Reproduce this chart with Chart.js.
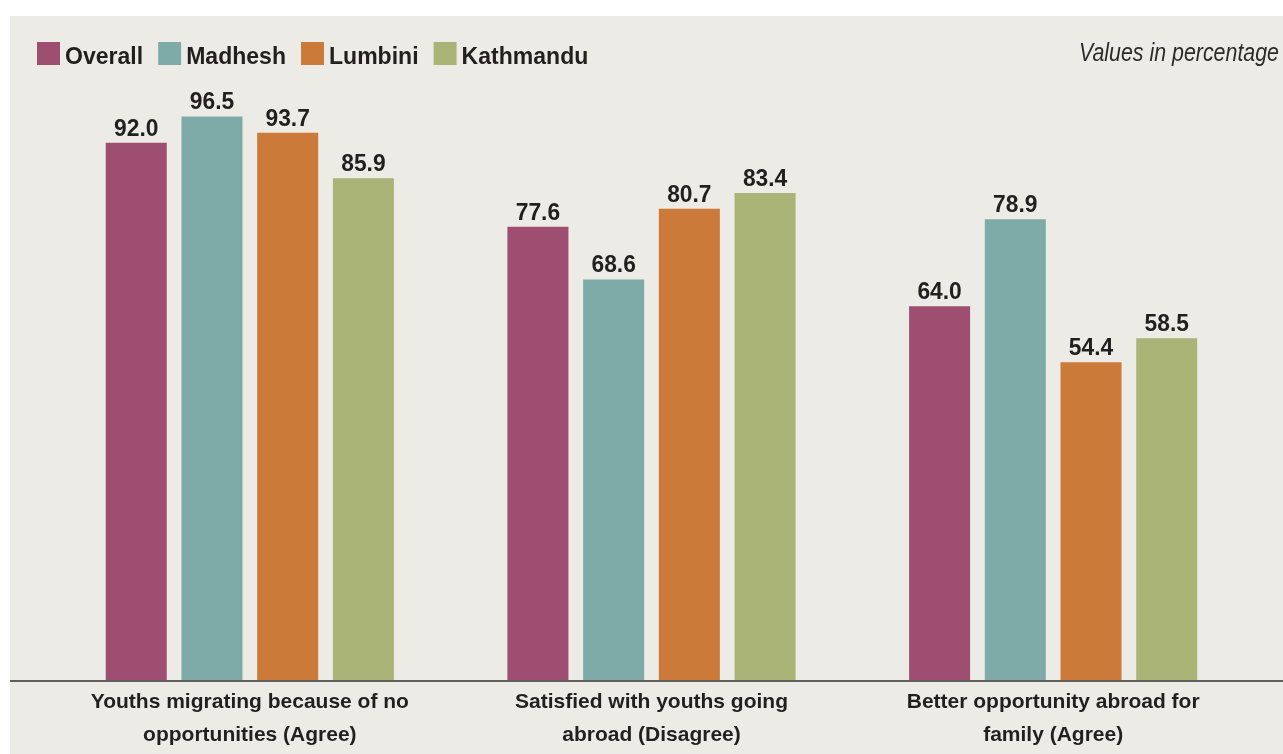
<!DOCTYPE html>
<html>
<head>
<meta charset="utf-8">
<script src="https://cdn.jsdelivr.net/npm/chart.js@4.4.1/dist/chart.umd.min.js"></script>
<style>
  html, body { margin: 0; padding: 0; background: #ffffff; }
  #wrap { width: 1283px; height: 754px; position: relative; }
</style>
</head>
<body>
<div id="wrap"><canvas id="c" width="1283" height="754"></canvas></div>
<script>
// ---- Data ----
const categories = [
  ["Youths migrating because of no", "opportunities (Agree)"],
  ["Satisfied with youths going", "abroad (Disagree)"],
  ["Better opportunity abroad for", "family (Agree)"]
];
const seriesNames = ["Overall", "Madhesh", "Lumbini", "Kathmandu"];
const overall   = [92.0, 77.6, 64.0];
const madhesh   = [96.5, 68.6, 78.9];
const lumbini   = [93.7, 80.7, 54.4];
const kathmandu = [85.9, 83.4, 58.5];
const seriesColors = ["#9e4e71", "#7eaba8", "#cb7a3a", "#aab477"];
const noteText = "Values in percentage";

const seriesValues = [overall, madhesh, lumbini, kathmandu];

const PANEL = "#ecebe6";
const TEXT = "#231f20";
const FONT = "'Liberation Sans', Arial, sans-serif";

const bgPlugin = {
  id: "bg",
  beforeDraw(chart) {
    const ctx = chart.ctx;
    ctx.save();
    ctx.fillStyle = "#ffffff";
    ctx.fillRect(0, 0, chart.width, chart.height);
    ctx.fillStyle = PANEL;
    ctx.fillRect(10, 16, chart.width - 10, chart.height - 16);
    ctx.restore();
  }
};

const baselinePlugin = {
  id: "baseline",
  afterDatasetsDraw(chart) {
    const ctx = chart.ctx;
    const y = chart.scales.y.getPixelForValue(0) + 1;
    ctx.save();
    ctx.strokeStyle = "#5e5e5e";
    ctx.lineWidth = 2;
    ctx.beginPath();
    ctx.moveTo(10, y);
    ctx.lineTo(chart.width, y);
    ctx.stroke();
    ctx.restore();
  }
};

function drawScaledText(ctx, text, x, y, sx, align) {
  ctx.save();
  ctx.translate(x, y);
  ctx.scale(sx, 1);
  ctx.textAlign = align;
  ctx.fillText(text, 0, 0);
  ctx.restore();
}

const valueLabelPlugin = {
  id: "valueLabels",
  afterDatasetsDraw(chart) {
    const ctx = chart.ctx;
    ctx.save();
    ctx.fillStyle = TEXT;
    ctx.font = "bold 24px " + FONT;
    ctx.textBaseline = "alphabetic";
    chart.data.datasets.forEach((ds, di) => {
      const meta = chart.getDatasetMeta(di);
      meta.data.forEach((bar, i) => {
        drawScaledText(ctx, ds.data[i].toFixed(1), bar.x, bar.y - 7, 0.95, "center");
      });
    });
    ctx.restore();
  }
};

const legendPlugin = {
  id: "customLegend",
  afterDraw(chart) {
    const ctx = chart.ctx;
    const sx = 0.96;
    ctx.save();
    ctx.font = "bold 24px " + FONT;
    ctx.textBaseline = "alphabetic";
    let x = 37;
    chart.data.datasets.forEach((ds) => {
      ctx.fillStyle = ds.backgroundColor;
      ctx.fillRect(x, 42, 23, 23);
      ctx.fillStyle = TEXT;
      drawScaledText(ctx, ds.label, x + 28, 64, sx, "left");
      x += 28 + ctx.measureText(ds.label).width * sx + 15;
    });
    // note
    ctx.font = "italic 25px " + FONT;
    ctx.fillStyle = "#2b2b2b";
    drawScaledText(ctx, noteText, 1279, 61, 0.855, "right");
    ctx.restore();
  }
};

new Chart(document.getElementById("c"), {
  type: "bar",
  data: {
    labels: categories,
    datasets: seriesNames.map((name, i) => ({
      label: name,
      data: seriesValues[i],
      backgroundColor: seriesColors[i],
      borderWidth: 0,
      categoryPercentage: 0.754,
      barPercentage: 0.806
    }))
  },
  options: {
    responsive: false,
    animation: false,
    devicePixelRatio: 1,
    layout: { padding: { left: 49, right: 29, top: 96, bottom: 0 } },
    plugins: {
      legend: { display: false },
      tooltip: { enabled: false },
      title: { display: false }
    },
    scales: {
      x: {
        grid: { display: false, drawTicks: false },
        border: { display: false },
        ticks: {
          color: TEXT,
          padding: 6,
          maxRotation: 0,
          autoSkip: false,
          font: { family: FONT, size: 21, weight: "bold", lineHeight: "33px" }
        },
        afterFit(scale) { scale.height = 74; }
      },
      y: {
        display: false,
        min: 0,
        max: 100
      }
    }
  },
  plugins: [bgPlugin, baselinePlugin, valueLabelPlugin, legendPlugin]
});
</script>
</body>
</html>
